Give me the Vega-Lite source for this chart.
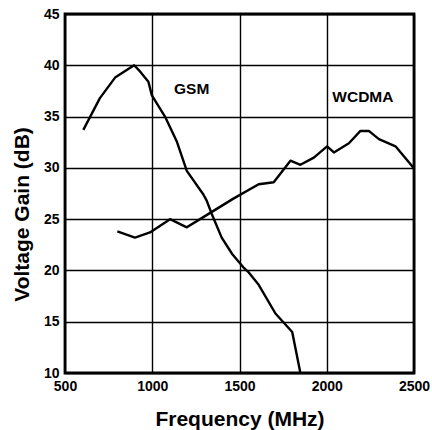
{
  "$schema": "https://vega.github.io/schema/vega-lite/v6.json",
  "width": 349,
  "height": 359,
  "autosize": {"type": "none"},
  "padding": {"left": 65, "top": 14, "right": 18, "bottom": 57},
  "background": "white",
  "config": {
    "font": "Liberation Sans",
    "view": {"stroke": "black", "strokeWidth": 2.8},
    "axis": {
      "grid": true,
      "gridColor": "black",
      "gridOpacity": 1,
      "gridWidth": 1.4,
      "domain": false,
      "ticks": false,
      "labelFont": "Liberation Sans",
      "labelFontWeight": "bold",
      "labelFontSize": 14,
      "labelColor": "black",
      "titleFont": "Liberation Sans",
      "titleFontWeight": "bold",
      "titleFontSize": 21,
      "titleColor": "black"
    }
  },
  "datasets": {
    "curves": [
      {"series": "GSM", "freq": 605, "gain": 33.7},
      {"series": "GSM", "freq": 700, "gain": 36.8},
      {"series": "GSM", "freq": 787, "gain": 38.8},
      {"series": "GSM", "freq": 896, "gain": 40.0},
      {"series": "GSM", "freq": 930, "gain": 39.4},
      {"series": "GSM", "freq": 978, "gain": 38.4},
      {"series": "GSM", "freq": 997, "gain": 37.1},
      {"series": "GSM", "freq": 1073, "gain": 35.0},
      {"series": "GSM", "freq": 1140, "gain": 32.6},
      {"series": "GSM", "freq": 1198, "gain": 29.7},
      {"series": "GSM", "freq": 1293, "gain": 27.4},
      {"series": "GSM", "freq": 1312, "gain": 26.8},
      {"series": "GSM", "freq": 1341, "gain": 25.5},
      {"series": "GSM", "freq": 1398, "gain": 23.2},
      {"series": "GSM", "freq": 1458, "gain": 21.6},
      {"series": "GSM", "freq": 1522, "gain": 20.3},
      {"series": "GSM", "freq": 1553, "gain": 19.8},
      {"series": "GSM", "freq": 1610, "gain": 18.6},
      {"series": "GSM", "freq": 1706, "gain": 15.8},
      {"series": "GSM", "freq": 1802, "gain": 14.0},
      {"series": "GSM", "freq": 1849, "gain": 10.0},
      {"series": "WCDMA", "freq": 800, "gain": 23.8},
      {"series": "WCDMA", "freq": 901, "gain": 23.2},
      {"series": "WCDMA", "freq": 987, "gain": 23.7},
      {"series": "WCDMA", "freq": 1102, "gain": 25.0},
      {"series": "WCDMA", "freq": 1198, "gain": 24.2},
      {"series": "WCDMA", "freq": 1274, "gain": 25.0},
      {"series": "WCDMA", "freq": 1465, "gain": 27.0},
      {"series": "WCDMA", "freq": 1610, "gain": 28.4},
      {"series": "WCDMA", "freq": 1696, "gain": 28.6},
      {"series": "WCDMA", "freq": 1792, "gain": 30.7},
      {"series": "WCDMA", "freq": 1849, "gain": 30.3},
      {"series": "WCDMA", "freq": 1926, "gain": 31.0},
      {"series": "WCDMA", "freq": 2002, "gain": 32.1},
      {"series": "WCDMA", "freq": 2041, "gain": 31.5},
      {"series": "WCDMA", "freq": 2127, "gain": 32.4},
      {"series": "WCDMA", "freq": 2193, "gain": 33.6},
      {"series": "WCDMA", "freq": 2241, "gain": 33.6},
      {"series": "WCDMA", "freq": 2299, "gain": 32.8},
      {"series": "WCDMA", "freq": 2394, "gain": 32.1},
      {"series": "WCDMA", "freq": 2498, "gain": 30.0}
    ],
    "labels": [
      {"label": "GSM", "freq": 1226, "gain": 37.7},
      {"label": "WCDMA", "freq": 2207, "gain": 36.9}
    ]
  },
  "layer": [
    {
      "data": {"name": "curves"},
      "mark": {"type": "line", "color": "black", "strokeWidth": 2.4, "strokeJoin": "round", "clip": true},
      "encoding": {
        "x": {
          "field": "freq", "type": "quantitative",
          "scale": {"domain": [500, 2500], "nice": false},
          "axis": {"values": [500, 1000, 1500, 2000, 2500], "format": "d", "title": "Frequency (MHz)", "labelPadding": 6, "titleBaseline": "alphabetic", "titleY": 52, "labelFlush": false}
        },
        "y": {
          "field": "gain", "type": "quantitative",
          "scale": {"domain": [10, 45], "nice": false, "zero": false},
          "axis": {"values": [10, 15, 20, 25, 30, 35, 40, 45], "format": "d", "title": "Voltage Gain (dB)", "labelPadding": 6, "titleX": -43, "titleY": 200, "titleAlign": "center", "titleBaseline": "middle", "labelFlush": false}
        },
        "detail": {"field": "series"}
      }
    },
    {
      "data": {"name": "labels"},
      "mark": {"type": "text", "font": "Liberation Sans", "fontWeight": "bold", "fontSize": 15.5, "color": "black"},
      "encoding": {
        "x": {"field": "freq", "type": "quantitative"},
        "y": {"field": "gain", "type": "quantitative"},
        "text": {"field": "label"}
      }
    }
  ]
}
